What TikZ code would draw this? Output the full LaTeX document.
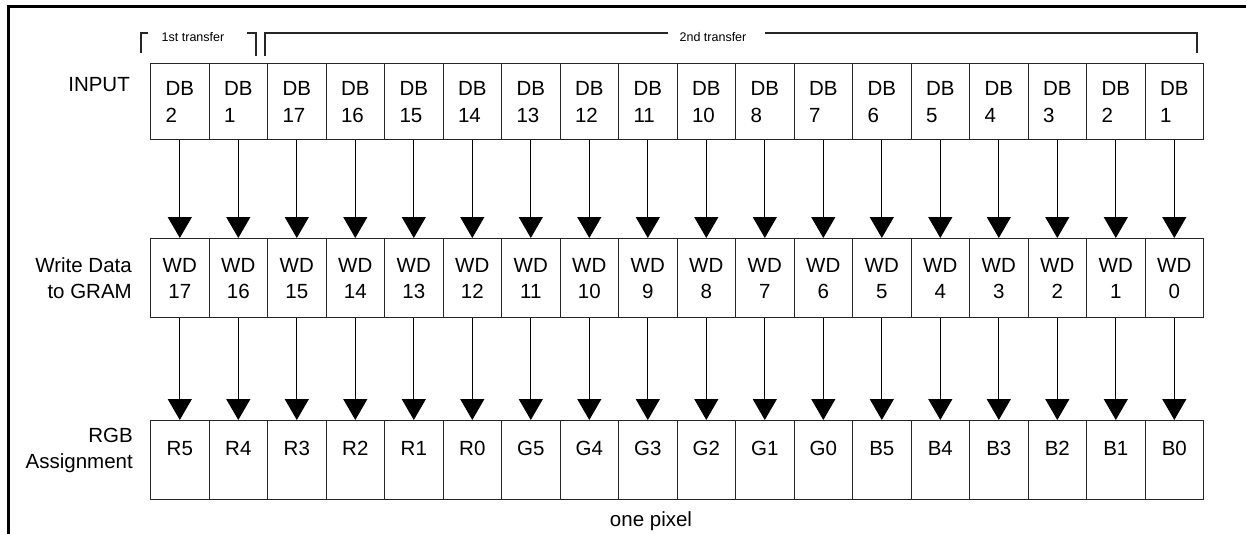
\documentclass[tikz,border=0pt]{standalone}
\usepackage{fontspec}
\setmainfont{Liberation Sans}
\usetikzlibrary{arrows.meta}
\tikzset{
  boxline/.style={draw=black!85, line width=1.1pt},
  cellA/.style={boxline, minimum width=58.5pt, minimum height=76pt, inner sep=0pt, anchor=north west, align=left, font=\fontsize{20.5}{27}\selectfont},
  cellB/.style={boxline, minimum width=58.5pt, minimum height=79pt, inner sep=0pt, anchor=north west, align=center, font=\fontsize{20.5}{26}\selectfont},
  cellC/.style={boxline, minimum width=58.5pt, minimum height=79pt, inner sep=0pt, anchor=north west},
  celltext/.style={anchor=base, inner sep=0pt, font=\fontsize{20.5}{26}\selectfont},
  rowlabel/.style={anchor=base east, inner sep=0pt, align=right, font=\fontsize{20.5}{26}\selectfont},
  smalltext/.style={inner sep=0pt, font=\fontsize{12.5}{14}\selectfont},
  bracket/.style={draw=black!85, line width=1.1pt},
  arr/.style={draw=black, line width=1.3pt, -{Triangle[length=21pt,width=24pt]}},
  frame/.style={draw=black, line width=3pt},
}
\begin{document}
\begin{tikzpicture}[x=1pt,y=-1pt]
\useasboundingbox (0,0) rectangle (1246,533);
% frame
\coordinate (f1) at (8,540);
\coordinate (f2) at (8,6);
\coordinate (f3) at (1250,6);
\draw[frame] (f1) -- (f2) -- (f3);

% row labels
\node[rowlabel] (linput) at (130,91) {INPUT};
\node[rowlabel] (lwd) at (132,298) {Write Data\\to GRAM};
\node[rowlabel] (lrgb) at (133,468) {RGB\\Assignment};

% rows
\foreach \t [count=\i from 0] in {2,1,17,16,15,14,13,12,11,10,8,7,6,5,4,3,2,1}
  \node[cellA] (a\i) at ({150+58.5*\i},63) {DB\\\t};
\foreach \t [count=\i from 0] in {17,16,15,14,13,12,11,10,9,8,7,6,5,4,3,2,1,0}
  \node[cellB] (b\i) at ({150+58.5*\i},238) {WD\\\t};
\foreach \t [count=\i from 0] in {R5,R4,R3,R2,R1,R0,G5,G4,G3,G2,G1,G0,B5,B4,B3,B2,B1,B0}{
  \node[cellC] (c\i) at ({150+58.5*\i},420) {};
  \node[celltext] (ct\i) at ([yshift=-35pt]c\i.north) {\t};
}

% arrows
\foreach \i in {0,...,17}{
  \draw[arr] (a\i.south) -- (b\i.north);
  \draw[arr] (b\i.south) -- (c\i.north);
}

% brackets
\node[smalltext] (t1) at (193,37) {1st transfer};
\coordinate (p1) at (141,53);
\coordinate (p2) at (141,33);
\coordinate (p3) at (148,33);
\coordinate (p4) at (247,33);
\coordinate (p5) at (256,33);
\coordinate (p6) at (256,56);
\draw[bracket] (p1) -- (p2) -- (p3);
\draw[bracket] (p4) -- (p5) -- (p6);

\node[smalltext] (t2) at (713,37) {2nd transfer};
\coordinate (q1) at (265,56);
\coordinate (q2) at (265,33);
\coordinate (q3) at (668,33);
\coordinate (q4) at (765,33);
\coordinate (q5) at (1197,33);
\coordinate (q6) at (1197,53);
\draw[bracket] (q1) -- (q2) -- (q3);
\draw[bracket] (q4) -- (q5) -- (q6);

% one pixel
\node[celltext] (op) at (651,526) {one pixel};
\end{tikzpicture}
\end{document}
